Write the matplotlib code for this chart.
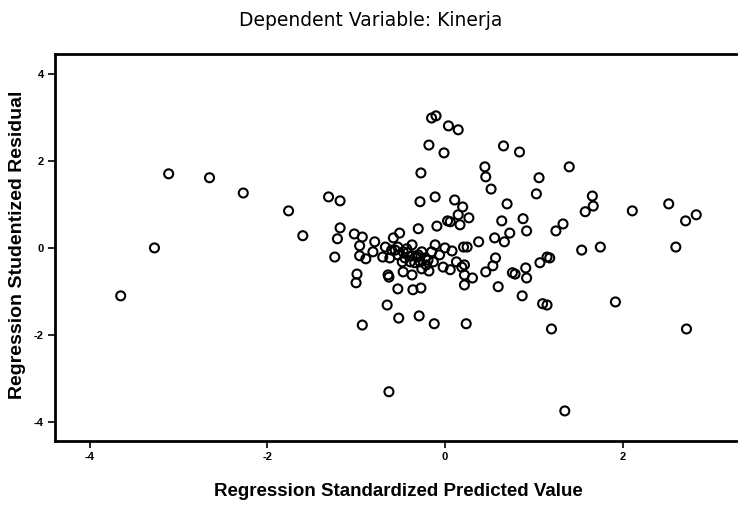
import matplotlib
matplotlib.use("Agg")
import matplotlib.pyplot as plt
import numpy as np

plt.rcParams['font.family'] = ['Liberation Sans', 'DejaVu Sans']
plt.rcParams['axes.unicode_minus'] = False

# Regression standardized predicted value (x) and studentized residual (y)
pred = [
    -3.65, -3.27, -3.11, -2.65, -2.27, -1.76, -1.60, -1.31, -1.18, -1.18,
    -1.21, -1.24, -1.02, -0.93, -0.96, -0.96, -0.89, -0.99, -1.00, -0.93,
    -0.79, -0.81, -0.67, -0.58, -0.51, -0.60, -0.62, -0.70, -0.64, -0.63,
    -0.53, -0.65, -0.36, -0.27, -0.48, -0.47, -0.37, -0.47, -0.42, -0.37,
    -0.31, -0.26, -0.22, -0.15, -0.11, -0.26, -0.18, -0.13, -0.02, 0.06,
    0.13, 0.19, 0.22, -0.30, -0.09, 0.00, 0.08, 0.06, 0.17, 0.21,
    -0.06, -0.56, -0.53, -0.45, -0.39, -0.34, -0.28, -0.21, -0.53, -0.43,
    -0.30, -0.19, -0.37, -0.52, -0.29, -0.12, 0.24, -0.63, 1.35, -0.28,
    -0.11, 0.11, 0.20, 0.03, 0.15, 0.27, -0.27, -0.15, -0.10, 0.04,
    0.15, -0.18, -0.01, 0.66, 0.84, 1.40, 0.45, 0.46, 0.52, 1.06,
    1.03, 0.70, 0.64, 0.88, 0.92, 1.66, 1.67, 1.58, 1.33, 1.25,
    2.11, 2.52, 2.83, 2.71, 2.60, 1.54, 1.75, 0.25, 0.38, 0.56,
    0.67, 0.73, 0.22, 0.31, 0.22, 0.57, 0.54, 0.46, 0.76, 0.79,
    0.91, 0.92, 1.07, 1.15, 1.18, 0.60, 0.87, 1.10, 1.15, 1.20,
    1.92, 2.72,
]
resid = [
    -1.10, 0.00, 1.70, 1.61, 1.26, 0.85, 0.28, 1.17, 1.08, 0.46,
    0.21, -0.21, 0.32, 0.25, 0.05, -0.18, -0.25, -0.60, -0.80, -1.77,
    0.14, -0.09, 0.02, 0.23, 0.34, -0.05, -0.23, -0.21, -0.62, -0.67,
    -0.94, -1.31, -0.96, -0.92, -0.32, -0.55, -0.62, -0.09, -0.11, 0.07,
    -0.21, -0.09, -0.23, -0.09, 0.07, -0.48, -0.53, -0.32, -0.44, -0.50,
    -0.32, -0.44, -0.62, 0.44, 0.50, 0.00, -0.07, 0.60, 0.53, 0.02,
    -0.16, -0.05, -0.16, -0.23, -0.32, -0.34, -0.32, -0.39, 0.02, -0.02,
    -0.16, -0.28, -0.18, -1.61, -1.56, -1.74, -1.74, -3.30, -3.74, 1.06,
    1.17, 1.10, 0.94, 0.62, 0.76, 0.69, 1.72, 2.98, 3.03, 2.80,
    2.71, 2.36, 2.18, 2.34, 2.20, 1.86, 1.86, 1.63, 1.35, 1.61,
    1.24, 1.01, 0.62, 0.67, 0.39, 1.19, 0.96, 0.83, 0.55, 0.39,
    0.85, 1.01, 0.76, 0.62, 0.02, -0.05, 0.02, 0.02, 0.14, 0.23,
    0.14, 0.34, -0.39, -0.69, -0.85, -0.23, -0.41, -0.55, -0.57, -0.60,
    -0.46, -0.69, -0.34, -0.21, -0.23, -0.89, -1.10, -1.28, -1.31, -1.86,
    -1.24, -1.86,
]
xticks = [-4, -2, 0, 2]
yticks = [-4, -2, 0, 2, 4]

W, H = 738, 509
fig = plt.figure(figsize=(W / 100, H / 100), dpi=100)
ax = fig.add_axes([0.0745, 0.1336, 0.9255, 0.7604])

ax.scatter(pred, resid, s=42, facecolors='none', edgecolors='black', linewidths=1.5)

ax.set_xlim(-4.39, 3.30)
ax.set_ylim(-4.43, 4.45)
ax.set_xticks(xticks)
ax.set_yticks(yticks)
ax.set_xticklabels([str(v) for v in xticks])
ax.set_yticklabels([str(v) for v in yticks])
ax.tick_params(direction='out', length=5, width=1.2, labelsize=8, pad=3)
for lab in ax.get_xticklabels() + ax.get_yticklabels():
    lab.set_fontweight('bold')

for side in ['left', 'bottom', 'top']:
    ax.spines[side].set_linewidth(2)
ax.spines['right'].set_visible(False)

fig.text(398 / W, 1 - 492 / H, 'Regression Standardized Predicted Value',
         fontsize=13.5, fontweight='bold', ha='center', va='center')
fig.text(18 / W, 1 - 245 / H, 'Regression Studentized Residual',
         fontsize=14, fontweight='bold', ha='center', va='center', rotation=90)
fig.text(371 / W, 1 - 21 / H, 'Dependent Variable: Kinerja', fontsize=13.5,
         family=['DejaVu Sans'], ha='center', va='center')

fig.savefig('out.png', dpi=100)
